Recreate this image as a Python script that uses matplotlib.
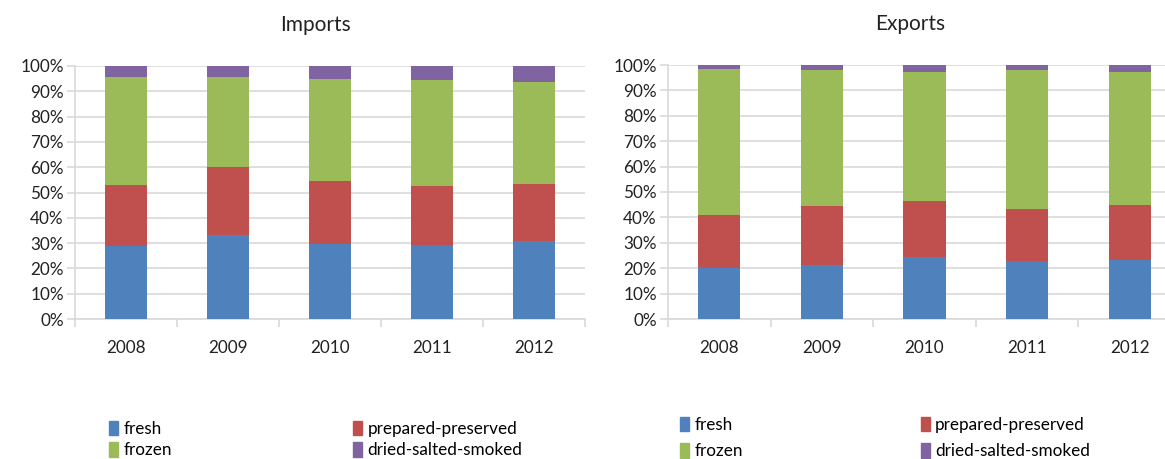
import matplotlib.pyplot as plt
from matplotlib.patches import Patch
from matplotlib.ticker import PercentFormatter

plt.rcParams['font.family'] = ['Lato', 'DejaVu Sans']

years = ['2008', '2009', '2010', '2011', '2012']
series = ['fresh', 'prepared-preserved', 'frozen', 'dried-salted-smoked']
colors = ['#4F81BD', '#C0504D', '#9BBB59', '#8064A2']

# shares in percent, stacked bottom to top
imp_fresh = [29.0, 33.2, 29.8, 29.3, 30.9]
imp_prepared = [24.0, 26.9, 24.7, 23.4, 22.5]
imp_frozen = [42.5, 35.4, 40.2, 41.6, 40.2]
imp_dried = [4.5, 4.5, 5.3, 5.7, 6.4]

exp_fresh = [20.2, 21.2, 24.6, 22.7, 23.1]
exp_prepared = [20.7, 23.1, 21.7, 20.7, 21.8]
exp_frozen = [57.5, 53.6, 51.1, 54.5, 52.5]
exp_dried = [1.6, 2.1, 2.6, 2.1, 2.6]

fig = plt.figure(figsize=(11.65, 4.59), dpi=100)
ax1 = fig.add_axes([75 / 1165, 1 - 319 / 459, 510 / 1165, 253 / 459])
ax2 = fig.add_axes([668 / 1165, 1 - 319 / 459, 513 / 1165, 254 / 459])

fs = 12.3


def draw(ax, title, data):
    x = range(len(years))
    bottom = [0] * len(years)
    for vals, c in zip(data, colors):
        ax.bar(x, vals, 0.41, bottom=bottom, color=c, zorder=3)
        bottom = [b + v for b, v in zip(bottom, vals)]
    ax.set_xlim(-0.5, len(years) - 0.5)
    ax.set_ylim(0, 100)
    ax.set_yticks(range(0, 101, 10))
    ax.yaxis.set_major_formatter(PercentFormatter(decimals=0))
    ax.grid(axis='y', color='#d9d9d9', lw=1.2, zorder=0)
    # category separators as major ticks, year labels on minor ticks
    ax.set_xticks([i + 0.5 for i in range(-1, len(years))])
    ax.set_xticklabels([])
    ax.set_xticks(list(x), minor=True)
    ax.set_xticklabels(years, minor=True)
    ax.tick_params(axis='x', which='major', length=6, color='#d9d9d9', width=1.2)
    ax.tick_params(axis='x', which='minor', length=0, pad=15, labelsize=fs, labelcolor='#222222')
    ax.tick_params(axis='y', length=6, color='#d9d9d9', width=1.2, labelsize=fs,
                   labelcolor='#222222', pad=2)
    for s in ['top', 'right']:
        ax.spines[s].set_visible(False)
    for s in ['left', 'bottom']:
        ax.spines[s].set_color('#d9d9d9')
        ax.spines[s].set_linewidth(1.2)
    ax.set_title(title, fontsize=15, pad=25, color='#222222')
    ax.title.set_position((0.472, 1.0))


draw(ax1, 'Imports', [imp_fresh, imp_prepared, imp_frozen, imp_dried])
draw(ax2, 'Exports', [exp_fresh, exp_prepared, exp_frozen, exp_dried])

handles = [Patch(color=colors[i], label=series[i]) for i in [0, 2, 1, 3]]
leg_kw = dict(ncol=2, frameon=False, fontsize=fs, handlelength=0.55, handleheight=0.9,
              handletextpad=0.3, borderaxespad=0, loc='upper left')
fig.legend(handles=handles, bbox_to_anchor=(102 / 1165, 1 - 414 / 459),
           columnspacing=10.6, labelspacing=0.33, **leg_kw)
fig.legend(handles=handles, bbox_to_anchor=(673 / 1165, 1 - 410 / 459),
           columnspacing=10.4, labelspacing=0.62, **leg_kw)

plt.savefig('out.png', dpi=100)
